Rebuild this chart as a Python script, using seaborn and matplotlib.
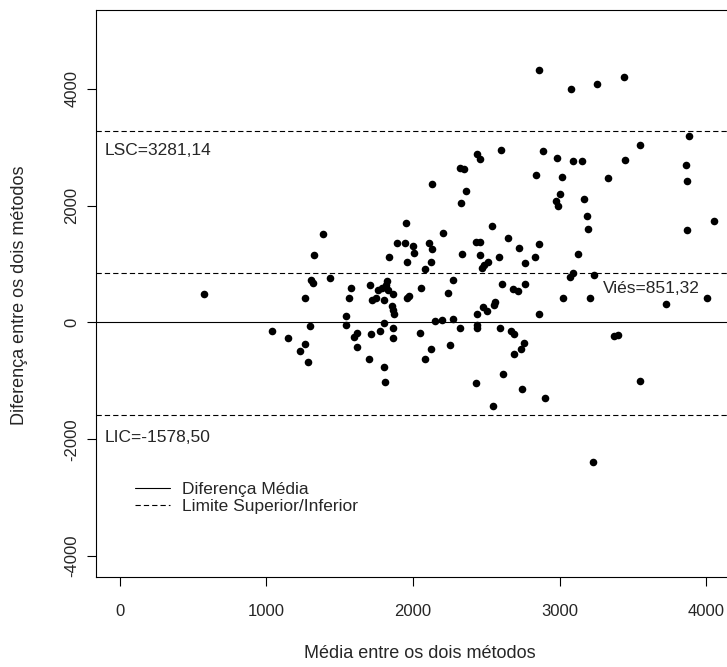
import numpy as np
import pandas as pd
import matplotlib
matplotlib.use("Agg")
import matplotlib.pyplot as plt
from matplotlib.lines import Line2D
import seaborn as sns

# ---- data ----
media = [579, 1039, 1150, 1227, 1261, 1282, 1261, 1298, 1305, 1316, 1323, 1384, 1432,
         1546, 1541, 1565, 1580, 1601, 1619, 1619, 1698, 1705, 1717, 1724, 1751, 1761,
         1792, 1823, 1819, 1833, 1863, 1805, 1860, 1865, 1869, 1805, 1778, 1867, 1862,
         1805, 1812, 1840, 1956, 1892, 1944, 2001, 2008, 1960, 1971, 1962, 2058, 2051,
         2081, 2126, 2109, 2133, 2205, 2126, 2081, 2329, 2338, 2276, 2239, 2150, 2197,
         2275, 2321, 2251, 2133, 2360, 2324, 2345, 2438, 2456, 2603, 2861, 2884, 2838,
         2541, 2427, 2456, 2648, 2722, 2861, 2454, 2587, 2829, 2761, 2468, 2483, 2509,
         2604, 2679, 2717, 2761, 2478, 2502, 2550, 2563, 2438, 2860, 2438, 2438, 2594,
         2666, 2691, 2758, 2734, 2689, 2611, 2431, 2742, 2899, 2548, 3078, 3257, 3439,
         3883, 3548, 3446, 2984, 3094, 3150, 3860, 3868, 3016, 3329, 3001, 2973, 2990,
         3165, 3189, 3197, 4055, 3867, 3126, 3092, 3070, 3234, 3025, 3204, 3728, 4004,
         3371, 3401, 3548, 3229]
diferenca = [488, -140, -270, -483, -368, -671, 414, -60, 728, 681, 1156, 1510, 762,
             111, -43, 414, 591, -253, -185, -414, -630, 647, -197, 385, 411, 556,
             591, 710, 633, 556, 488, 385, 282, 214, 140, -14, -140, -94, -270,
             -757, -1019, 1113, 1707, 1356, 1356, 1310, 1181, 1027, 454, 411, 585, -175,
             -628, -454, 1356, 1253, 1527, 1027, 916, 2051, 1173, 728, 510, 26, 34,
             63, -94, -385, 2368, 2251, 2645, 2623, 2880, 2804, 2953, 4323, 2941, 2525,
             1644, 1373, 1373, 1452, 1272, 1349, 1156, 1116, 1116, 1019, 924, 984, 1036,
             664, 574, 531, 664, 262, 202, 300, 342, 140, 140, -51, -99, -99,
             -146, -197, -351, -462, -544, -882, -1032, -1135, -1289, -1430, 3992, 4092, 4208,
             3193, 3034, 2779, 2821, 2760, 2760, 2702, 2428, 2486, 2469, 2195, 2080, 1998,
             2114, 1823, 1606, 1743, 1584, 1173, 842, 770, 813, 414, 414, 312, 414,
             -231, -214, -996, -2388]

vies = 851.32
lsc = 3281.14
lic = -1578.50
legend_labels = ["Diferença Média", "Limite Superior/Inferior"]
x_ticks = [0, 1000, 2000, 3000, 4000]
y_ticks = [-4000, -2000, 0, 2000, 4000]

df = pd.DataFrame({"media": media, "diferenca": diferenca})

# ---- style ----
sns.set_theme(style="white")
plt.rcParams["font.family"] = ["Liberation Sans", "DejaVu Sans"]
plt.rcParams["lines.scale_dashes"] = False
FS = 12
FS_LAB = 13
FS_TXT = 12.5
TXT = "#262626"

W, H = 727, 667
fig = plt.figure(figsize=(W / 100, H / 100), dpi=100)
left_px, right_px, top_px, bot_px = 95.5, 745, 9.5, 577
ax = fig.add_axes([left_px / W, (H - bot_px) / H,
                   (right_px - left_px) / W, (bot_px - top_px) / H])

sns.scatterplot(data=df, x="media", y="diferenca", ax=ax, color="black",
                s=30, linewidth=0, marker="o", legend=False, zorder=3)

dash = (3.8, 2.2)
ax.axhline(0, color="black", lw=0.8)
for v in (vies, lsc, lic):
    ax.axhline(v, color="black", lw=0.8, ls=(0, dash))

ax.text(-100, 2940, f"LSC={lsc:.2f}".replace(".", ","), fontsize=FS_TXT, color=TXT,
        ha="left", va="center")
ax.text(-100, -1975, f"LIC={lic:.2f}".replace(".", ","), fontsize=FS_TXT, color=TXT,
        ha="left", va="center")
ax.text(3296, 585, f"Viés={vies:.2f}".replace(".", ","), fontsize=FS_TXT, color=TXT,
        ha="left", va="center")

handles = [Line2D([], [], color="black", lw=0.8),
           Line2D([], [], color="black", lw=0.8, ls=(0, dash))]
ax.legend(handles, legend_labels, loc="upper left",
          bbox_to_anchor=((135 - left_px) / (right_px - left_px), (bot_px - 482) / (bot_px - top_px)),
          frameon=False, fontsize=FS_TXT, handlelength=2.0, handletextpad=0.72,
          labelspacing=0.12, borderpad=0, borderaxespad=0, labelcolor=TXT)

ax.set_xlim(-164, 4264)
ax.set_ylim(-4360, 5360)
ax.set_xticks(x_ticks)
ax.set_yticks(y_ticks)
ax.set_xticklabels([str(t) for t in x_ticks])
ax.set_yticklabels([str(t) for t in y_ticks], rotation=90, va="center")
ax.tick_params(axis="both", direction="out", length=6.5, width=0.8, color="black",
               labelsize=FS, labelcolor=TXT, bottom=True, left=True)
ax.tick_params(axis="x", pad=13)
ax.tick_params(axis="y", pad=5)
for sp in ax.spines.values():
    sp.set_color("black")
    sp.set_linewidth(0.8)
    sp.set_visible(True)

ax.set_xlabel("Média entre os dois métodos", fontsize=FS_LAB, color=TXT)
ax.set_ylabel("Diferença entre os dois métodos", fontsize=FS_LAB, color=TXT)
ax.xaxis.set_label_coords((420 - left_px) / (right_px - left_px), (bot_px - 645) / (bot_px - top_px))
ax.yaxis.set_label_coords((28 - left_px) / (right_px - left_px), (bot_px - 295) / (bot_px - top_px))
ax.xaxis.label.set_va("top")

fig.savefig("out.png", dpi=100)
